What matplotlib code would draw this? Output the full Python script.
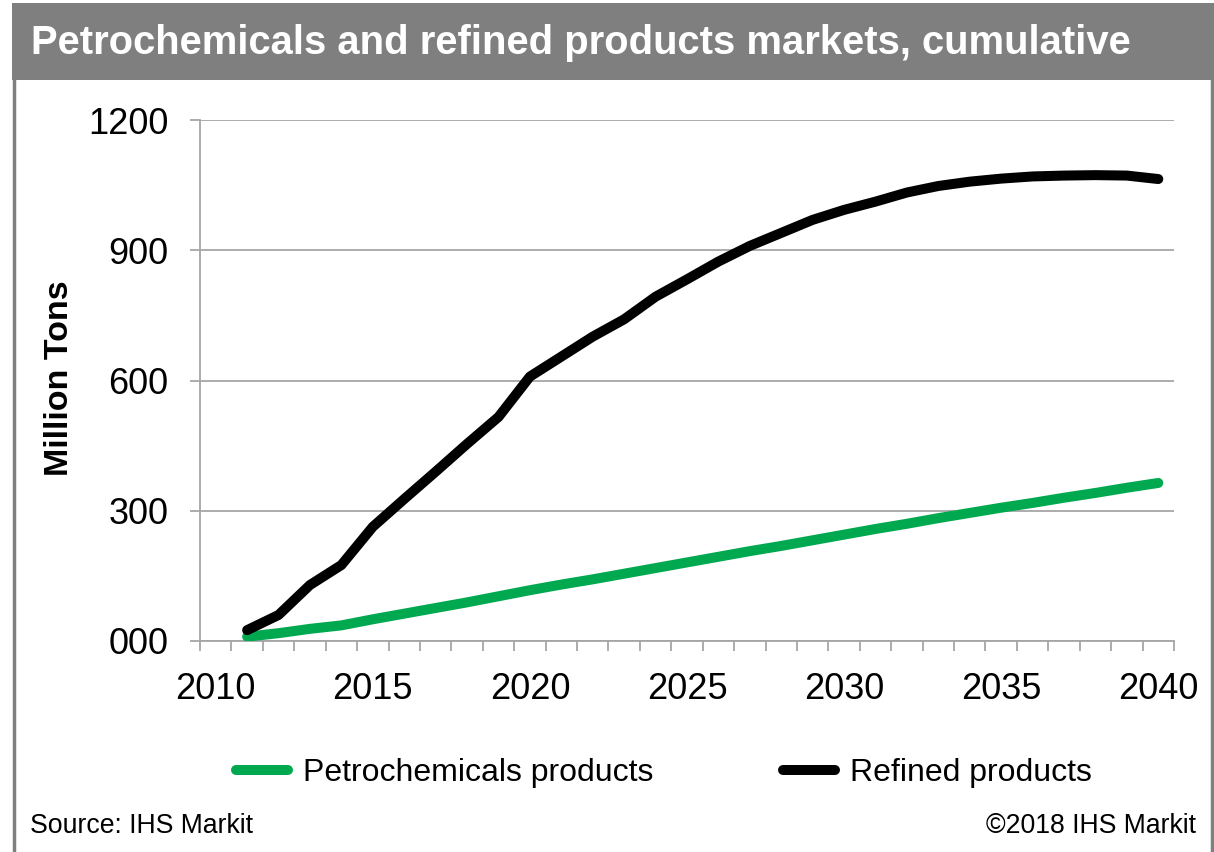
import matplotlib
matplotlib.use("Agg")
import matplotlib.pyplot as plt
from matplotlib.patches import Rectangle
from matplotlib.lines import Line2D
from matplotlib.ticker import FixedLocator, FixedFormatter, MultipleLocator

plt.rcParams['font.family'] = ['Liberation Sans', 'DejaVu Sans']

# cumulative volumes, million tons
years = list(range(2011, 2041))
petrochemicals = [10, 18, 28, 36, 50, 63, 76, 89, 103, 117,
                  130, 142, 155, 168, 181, 194, 207, 219, 232, 245,
                  258, 270, 283, 295, 307, 318, 330, 341, 353, 364]
refined = [25, 60, 129, 175, 263, 327, 390, 454, 516, 609,
           655, 701, 741, 793, 833, 874, 910, 940, 970, 993,
           1012, 1033, 1048, 1058, 1065, 1070, 1072, 1073, 1072, 1064]

y_ticks = [0, 300, 600, 900, 1200]
y_tick_labels = ["000", "300", "600", "900", "1200"]
x_label_years = [2010, 2015, 2020, 2025, 2030, 2035, 2040]

GREEN = "#00a94f"
GRID = "#a6a6a6"
BAR = "#7f7f7f"

W, H = 1214, 852
fig = plt.figure(figsize=(W / 100, H / 100), dpi=100)

# header bar and side borders
fig.patches.append(Rectangle((12 / W, 1 - 80 / H), 1 - 12 / W, 77 / H,
                             transform=fig.transFigure, facecolor=BAR,
                             edgecolor="none", zorder=0))
fig.add_artist(Line2D([13.5 / W, 13.5 / W], [0, 1 - 80 / H],
                      transform=fig.transFigure, color=BAR, lw=2.5))
fig.add_artist(Line2D([1212 / W, 1212 / W], [0, 1 - 80 / H],
                      transform=fig.transFigure, color=BAR, lw=2.5))
fig.text(31 / W, 1 - 43 / H, "Petrochemicals and refined products markets, cumulative",
         color="white", fontsize=28.8, fontweight="bold", va="center", ha="left")

ax = fig.add_axes([200 / W, 1 - 641 / H, 974 / W, 521 / H])
ax.plot(years, petrochemicals, color=GREEN, lw=7.2, solid_capstyle="round",
        solid_joinstyle="round", label="Petrochemicals products", zorder=3)
ax.plot(years, refined, color="black", lw=7.2, solid_capstyle="round",
        solid_joinstyle="round", label="Refined products", zorder=4)

ax.set_xlim(2009.5, 2040.5)
ax.set_ylim(0, 1200)

ax.yaxis.set_major_locator(FixedLocator(y_ticks))
ax.yaxis.set_major_formatter(FixedFormatter(y_tick_labels))
ax.xaxis.set_major_locator(FixedLocator(x_label_years))
ax.xaxis.set_major_formatter(FixedFormatter([str(y) for y in x_label_years]))
ax.xaxis.set_minor_locator(MultipleLocator(1, offset=0.5))

ax.grid(axis="y", color=GRID, lw=1.3, zorder=0)
for side in ["top", "right"]:
    ax.spines[side].set_visible(False)
for side in ["left", "bottom"]:
    ax.spines[side].set_color(GRID)
    ax.spines[side].set_linewidth(1.3)

ax.tick_params(axis="y", which="major", length=7.5, width=1.3, color=GRID,
               labelsize=26, pad=15)
ax.tick_params(axis="x", which="major", length=0, labelsize=26, pad=22)
ax.tick_params(axis="x", which="minor", length=7.5, width=1.3, color=GRID)

fig.text(60 / W, 1 - 378 / H, "Million Tons", rotation=90, fontsize=24.5,
         fontweight="bold", ha="center", va="center")

fig.legend(loc="center", bbox_to_anchor=(664 / W, 1 - 773 / H), ncol=2,
           frameon=False, fontsize=23, handlelength=1.63, handletextpad=0.47,
           columnspacing=4.07, borderpad=0, borderaxespad=0)

fig.text(30 / W, 1 - 826 / H, "Source: IHS Markit", fontsize=19.2,
         ha="left", va="center")
fig.text(1196 / W, 1 - 826 / H, "\u00a92018 IHS Markit", fontsize=19.2,
         ha="right", va="center")

fig.savefig("out.png", dpi=100)
